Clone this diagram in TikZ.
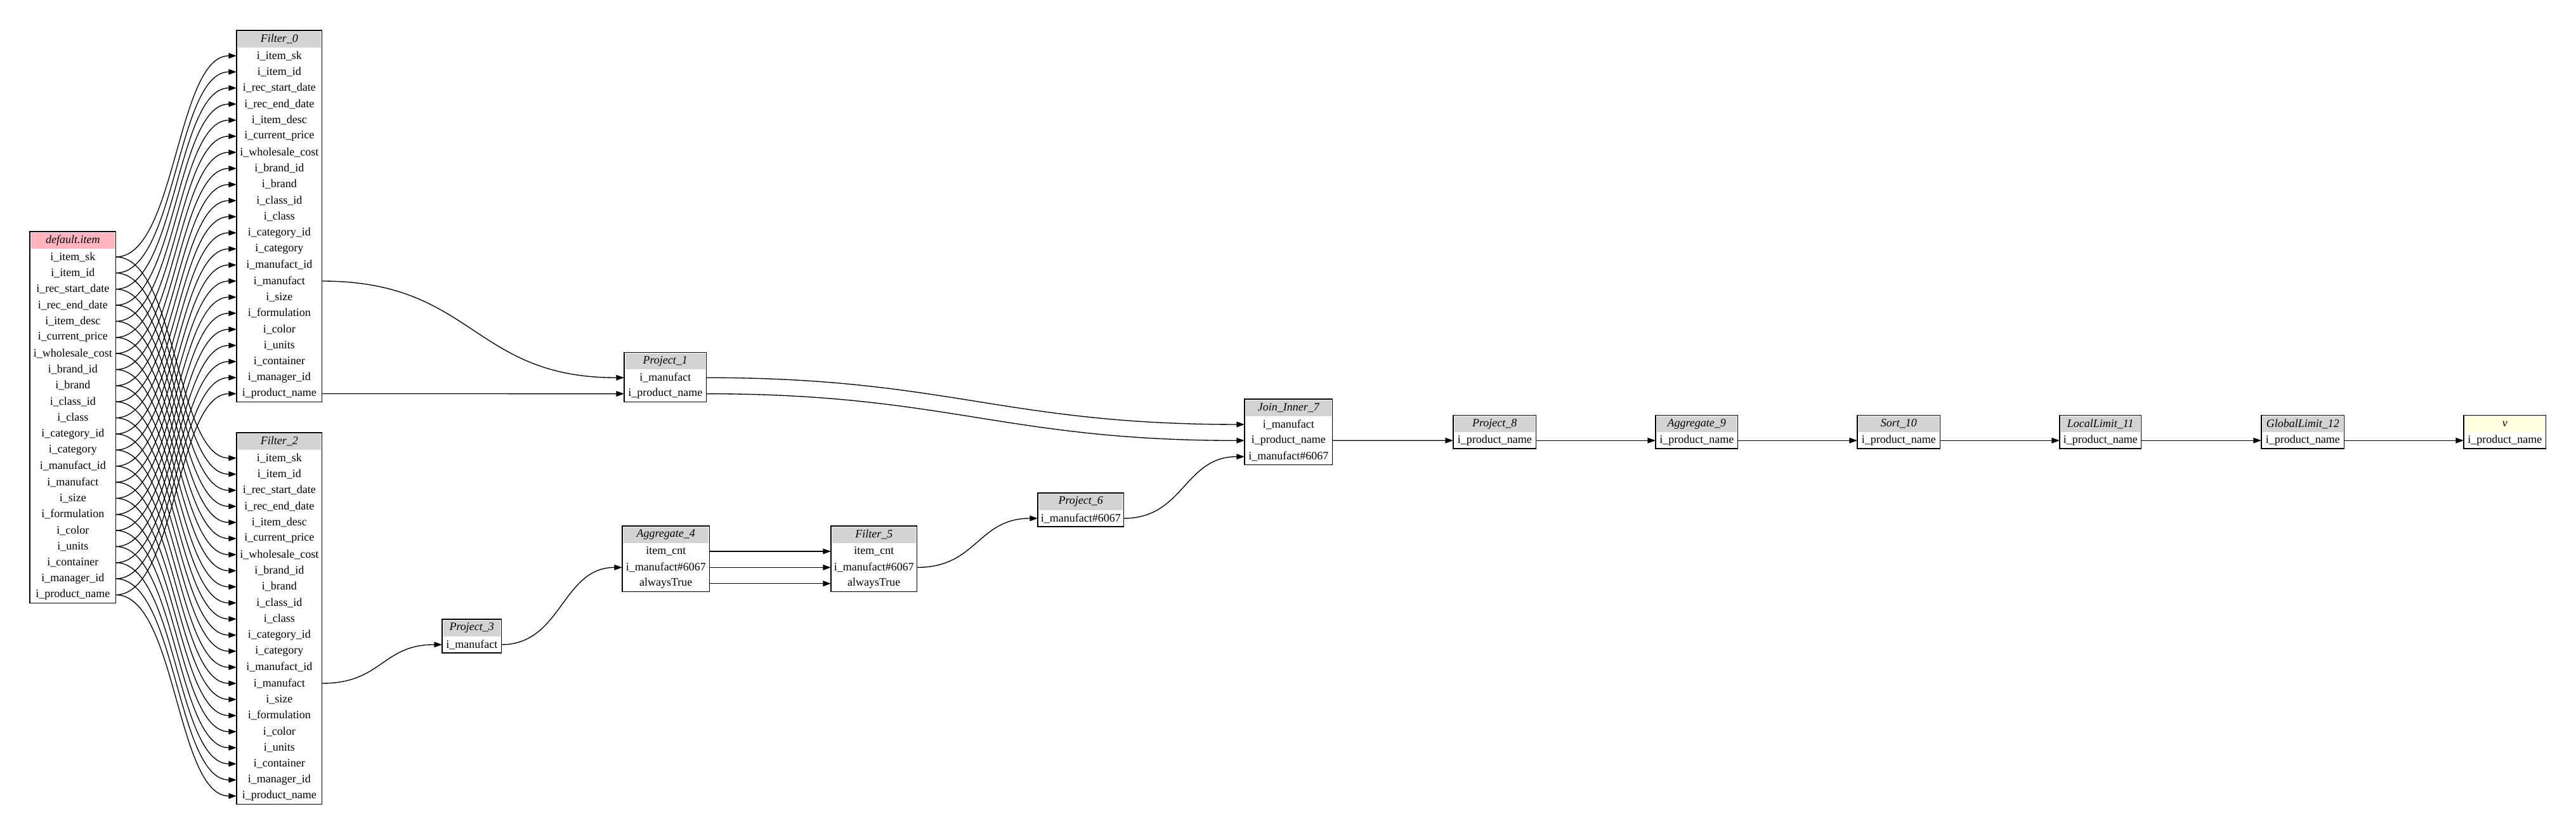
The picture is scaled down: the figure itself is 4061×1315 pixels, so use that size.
\documentclass[tikz,border=0pt]{standalone}
\usepackage{fontspec}
\setmainfont{Liberation Serif}
\usetikzlibrary{arrows.meta}
\definecolor{hdrgray}{RGB}{211,211,211}
\definecolor{hdrpink}{RGB}{255,182,193}
\definecolor{hdryellow}{RGB}{255,255,224}
\tikzset{
  rowcell/.style={inner sep=0pt, minimum height=19.02pt, font=\fontsize{13.5}{16}\selectfont, anchor=north west},
  hdrcell/.style={inner sep=0pt, minimum height=20.25pt, font=\fontsize{13.5}{16}\selectfont\itshape, anchor=north west},
  boxborder/.style={draw=black, line width=1.2pt},
  flow/.style={draw=black, line width=1pt, -{Triangle[length=9.5pt,width=6.5pt]}},
}
% #1 name, #2 left x, #3 top y, #4 width, #5 title, #6 header colour, #7 rows (a macro holding the list)
\newcommand\optable[7]{%
  \fill[#6] ({#2+1.5},{#3+1.5}) rectangle ({#2+#4-1.5},{#3+26.5});
  \node[hdrcell, minimum width={#4*0.75pt}] (#1-h) at ({#2},{#3}) {#5};
  \foreach \rowtxt [count=\ri from 0] in #7 {%
    \node[rowcell, minimum width={#4*0.75pt}] (#1-\ri) at ({#2},{#3+27+25.36*\ri}) {\rowtxt};
    \xdef\lastrow{\ri}%
  }
  \draw[boxborder] (#1-h.north west) rectangle (#1-\lastrow.south east);
}
\def\itemcols{i\_item\_sk,i\_item\_id,i\_rec\_start\_date,i\_rec\_end\_date,i\_item\_desc,i\_current\_price,i\_wholesale\_cost,i\_brand\_id,i\_brand,i\_class\_id,i\_class,i\_category\_id,i\_category,i\_manufact\_id,i\_manufact,i\_size,i\_formulation,i\_color,i\_units,i\_container,i\_manager\_id,i\_product\_name}
\def\twocols{i\_manufact,i\_product\_name}
\def\manucol{i\_manufact}
\def\aggcols{item\_cnt,i\_manufact\#6067,alwaysTrue}
\def\manunumcol{i\_manufact\#6067}
\def\joincols{i\_manufact,i\_product\_name,i\_manufact\#6067}
\def\pncol{i\_product\_name}
\begin{document}
\begin{tikzpicture}[x=0.75pt,y=-0.75pt]
\useasboundingbox (0,0) rectangle (4061,1315);
\optable{d}{47}{365}{135}{default.item}{hdrpink}{\itemcols}
\optable{fa}{373}{48}{134}{Filter\_0}{hdrgray}{\itemcols}
\optable{fb}{373}{682}{134}{Filter\_2}{hdrgray}{\itemcols}
\optable{pa}{984}{555.3}{129}{Project\_1}{hdrgray}{\twocols}
\optable{pc}{697}{976}{93}{Project\_3}{hdrgray}{\manucol}
\optable{ad}{981}{829}{137}{Aggregate\_4}{hdrgray}{\aggcols}
\optable{fe}{1310}{829}{135}{Filter\_5}{hdrgray}{\aggcols}
\optable{pf}{1636}{777}{135}{Project\_6}{hdrgray}{\manunumcol}
\optable{jg}{1962}{629}{138}{Join\_Inner\_7}{hdrgray}{\joincols}
\optable{ph}{2291}{654.3}{130}{Project\_8}{hdrgray}{\pncol}
\optable{ai}{2610}{654.3}{129}{Aggregate\_9}{hdrgray}{\pncol}
\optable{sj}{2928}{654.3}{130}{Sort\_10}{hdrgray}{\pncol}
\optable{lk}{3247}{654.3}{128}{LocalLimit\_11}{hdrgray}{\pncol}
\optable{gl}{3565}{654.3}{130}{GlobalLimit\_12}{hdrgray}{\pncol}
\optable{vv}{3884}{654.3}{129}{v}{hdryellow}{\pncol}
% edges
\foreach \k in {0,...,21} {
  \draw[flow] (d-\k.east) .. controls +(95,0) and +(-95,0) .. (fa-\k.west);
  \draw[flow] (d-\k.east) .. controls +(95,0) and +(-95,0) .. (fb-\k.west);
}
\draw[flow] (fa-14.east) .. controls +(240,0) and +(-240,0) .. (pa-0.west);
\draw[flow] (fa-21.east) -- (pa-1.west);
\draw[flow] (pa-0.east) .. controls +(380,0) and +(-380,0) .. (jg-0.west);
\draw[flow] (pa-1.east) .. controls +(380,0) and +(-380,0) .. (jg-1.west);
\draw[flow] (fb-14.east) .. controls +(95,0) and +(-95,0) .. (pc-0.west);
\draw[flow] (pc-0.east) .. controls +(95,0) and +(-95,0) .. (ad-1.west);
\foreach \k in {0,1,2} {
  \draw[flow] (ad-\k.east) -- (fe-\k.west);
}
\draw[flow] (fe-1.east) .. controls +(95,0) and +(-95,0) .. (pf-0.west);
\draw[flow] (pf-0.east) .. controls +(95,0) and +(-95,0) .. (jg-2.west);
\draw[flow] (jg-1.east) -- (ph-0.west);
\draw[flow] (ph-0.east) -- (ai-0.west);
\draw[flow] (ai-0.east) -- (sj-0.west);
\draw[flow] (sj-0.east) -- (lk-0.west);
\draw[flow] (lk-0.east) -- (gl-0.west);
\draw[flow] (gl-0.east) -- (vv-0.west);
\end{tikzpicture}
\end{document}
